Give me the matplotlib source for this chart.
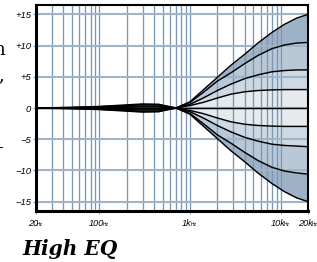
import numpy as np
import matplotlib
matplotlib.use("Agg")
import matplotlib.pyplot as plt
from matplotlib.ticker import FixedLocator, LogLocator, NullFormatter

freqs = [20, 50, 100, 200, 300, 450, 700, 1000, 1400, 2000, 2800,
         4000, 5600, 8000, 11000, 15000, 20000]

# gain in dB, boost curves
boost_15 = [0, -0.1, -0.25, -0.5, -0.65, -0.6, 0, 1.0, 2.9, 4.9, 6.8, 8.6, 10.4, 12.1, 13.4, 14.4, 15.0]
boost_10 = [0, -0.08, -0.2, -0.4, -0.52, -0.48, 0, 0.9, 2.5, 4.3, 5.6, 7.1, 8.4, 9.5, 10.1, 10.4, 10.5]
boost_6 = [0, -0.05, -0.12, -0.25, -0.32, -0.3, 0, 0.6, 1.6, 2.8, 3.8, 4.7, 5.3, 5.8, 6.0, 6.1, 6.1]
boost_3 = [0, -0.02, -0.06, -0.12, -0.16, -0.15, 0, 0.4, 0.9, 1.6, 2.2, 2.6, 2.8, 2.9, 2.95, 2.95, 2.95]
flat = [0] * len(freqs)
# cut curves
cut_3 = [0, 0.02, 0.06, 0.12, 0.16, 0.15, 0, -0.4, -0.9, -1.6, -2.2, -2.6, -2.8, -2.9, -2.95, -2.95, -2.95]
cut_6 = [0, 0.05, 0.12, 0.25, 0.32, 0.3, 0, -0.6, -1.6, -2.8, -3.8, -4.7, -5.3, -5.8, -6.0, -6.1, -6.2]
cut_10 = [0, 0.08, 0.2, 0.4, 0.52, 0.48, 0, -0.9, -2.5, -4.3, -5.6, -7.1, -8.4, -9.5, -10.1, -10.4, -10.6]
cut_15 = [0, 0.1, 0.25, 0.5, 0.65, 0.6, 0, -1.0, -2.9, -4.9, -6.8, -8.6, -10.4, -12.1, -13.4, -14.4, -15.0]

yticks = [15, 10, 5, 0, -5, -10, -15]
ylabels = ["+15", "+10", "+5", "0", "\u22125", "\u221210", "\u221215"]
xticks = [20, 100, 1000, 10000, 20000]
xlabels = ["20", "100", "1k", "10k", "20k"]

band_colors = ["#9eb2c7", "#b9c8d7", "#cfd9e3", "#e5eaef"]
grid_v = "#7a98b4"
grid_h = "#9fb4c8"

fig = plt.figure(figsize=(3.17, 2.62), dpi=100, facecolor="white")
ax = fig.add_axes([36 / 317, 1 - 211 / 262, 272 / 317, 206 / 262])

ax.set_xscale("log")
ax.set_xlim(20, 20000)
ax.set_ylim(-16.5, 16.5)

upper = [boost_15, boost_10, boost_6, boost_3, flat]
lower = [cut_15, cut_10, cut_6, cut_3, flat]
for i in range(4):
    ax.fill_between(freqs, upper[i], upper[i + 1], color=band_colors[i], lw=0, zorder=1)
    ax.fill_between(freqs, lower[i], lower[i + 1], color=band_colors[i], lw=0, zorder=1)

for c in upper + lower[:-1]:
    ax.plot(freqs, c, color="black", lw=1.05, zorder=3, solid_capstyle="butt")

# grid
ax.set_axisbelow(False)
ax.xaxis.set_major_locator(FixedLocator(xticks))
ax.xaxis.set_minor_locator(LogLocator(base=10, subs=np.arange(2, 10), numticks=20))
ax.xaxis.set_major_formatter(NullFormatter())
ax.xaxis.set_minor_formatter(NullFormatter())
ax.xaxis.grid(True, which="both", color=grid_v, lw=0.95)
ax.yaxis.grid(True, which="major", color=grid_h, lw=1.5)
ax.tick_params(axis="x", which="minor", length=0)
ax.tick_params(axis="x", which="major", length=2.2, width=0.8, color=grid_v)

ax.set_yticks(yticks)
ax.set_yticklabels(ylabels)
ax.tick_params(axis="y", length=2.2, width=0.8, color=grid_v, pad=1.2)
for lab in ax.get_yticklabels():
    lab.set_fontstyle("italic")
    lab.set_fontsize(6.8)
    lab.set_family("Liberation Sans")

for side, lw in [("left", 2.2), ("bottom", 2.2), ("top", 1.5), ("right", 1.5)]:
    ax.spines[side].set_linewidth(lw)
    ax.spines[side].set_color("black")
    ax.spines[side].set_zorder(5)

# x tick labels: number + tiny "Hz", the pair centred on the tick
pairs = []
for f, s in zip(xticks, xlabels):
    num = ax.annotate(s, xy=(f, 0), xycoords=("data", "axes fraction"),
                      xytext=(0, -10.8), textcoords="offset points",
                      ha="right", va="baseline", fontsize=6.6, fontstyle="italic",
                      family="Liberation Sans", annotation_clip=False)
    hz = ax.annotate("Hz", xy=(1, 0), xycoords=num, xytext=(-0.9, 0.6),
                     textcoords="offset points", ha="left", va="bottom",
                     fontsize=3.5, family="Liberation Sans", annotation_clip=False)
    pairs.append((num, hz))

fig.canvas.draw()
r = fig.canvas.get_renderer()
for num, hz in pairs:
    w1 = num.get_window_extent(r).width
    w2 = hz.get_window_extent(r).width
    dx = (w1 - w2) / 2 * 72 / fig.dpi
    num.xyann = (dx, -10.8)

fig.text(22 / 317, 1 - 255 / 262, "High EQ", fontsize=14.5, fontweight="bold",
         fontstyle="italic", family="DejaVu Serif", ha="left", va="baseline")

# fragments of neighbouring page text cut by the left edge
fig.text(-7 / 317, 1 - 55 / 262, "n", fontsize=13, family="DejaVu Serif", va="baseline")
fig.text(-2 / 317, 1 - 80 / 262, ",", fontsize=13, family="DejaVu Serif", va="baseline")
fig.text(-6 / 317, 1 - 152 / 262, "\u2013", fontsize=13, family="DejaVu Serif", va="baseline")

fig.savefig("out.png", dpi=100, facecolor="white")
